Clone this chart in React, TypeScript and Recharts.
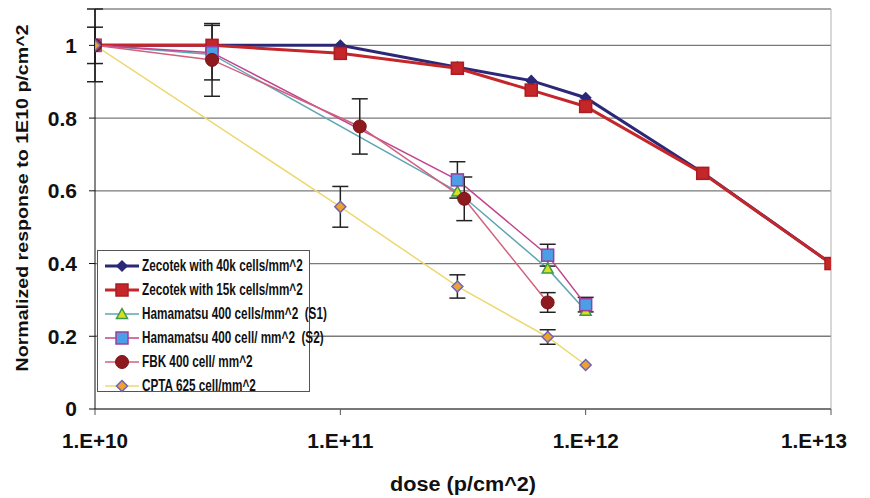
import { LineChart, Line, XAxis, YAxis, CartesianGrid, ErrorBar, Label, ReferenceLine } from "recharts"

// dose points (p/cm^2) and normalized responses
const zecDose = [1e10, 3e10, 1e11, 3e11, 6e11, 1e12, 3e12, 1e13]
const zec40Resp = [1, 1, 1, 0.94, 0.903, 0.856, 0.65, 0.4]
const zec15Resp = [1, 1, 0.978, 0.937, 0.877, 0.832, 0.648, 0.4]

const hamaDose = [1e10, 3e10, 3e11, 7e11, 1e12]
const hamaS1Resp = [1, 0.975, 0.598, 0.386, 0.27]
const hamaS2Resp = [1, 0.98, 0.63, 0.423, 0.287]
const hamaS2Err = [0.05, 0.075, 0.05, 0.03, 0.02]

const fbkDose = [1e10, 3e10, 1.2e11, 3.2e11, 7e11]
const fbkResp = [1, 0.96, 0.777, 0.578, 0.293]
const fbkErr = [0.1, 0.1, 0.076, 0.06, 0.027]

const cptaDose = [1e10, 1e11, 3e11, 7e11, 1e12]
const cptaResp = [1, 0.556, 0.337, 0.198, 0.121]
const cptaErr = [0, 0.056, 0.032, 0.02, 0]

const xTicks = [1e10, 1e11, 1e12, 1e13]
const yTicks = [0, 0.2, 0.4, 0.6, 0.8, 1]

const toRows = (xs: number[], ys: number[], errs?: number[]) =>
  xs.map((x, i) => ({ x, y: ys[i], err: errs ? errs[i] : 0 }))

const FONT = "'Liberation Sans', Arial, sans-serif"

/* marker shapes */
type Mk = { kind: string; fill: string; stroke: string; size: number }

function shape(m: Mk, cx: number, cy: number, key?: string | number) {
  const s = m.size
  if (m.kind === "diamond")
    return <path key={key} d={`M${cx},${cy - s}L${cx + s},${cy}L${cx},${cy + s}L${cx - s},${cy}Z`} fill={m.fill} stroke={m.stroke} strokeWidth={1.5} />
  if (m.kind === "square")
    return <rect key={key} x={cx - s} y={cy - s} width={2 * s} height={2 * s} fill={m.fill} stroke={m.stroke} strokeWidth={1.5} />
  if (m.kind === "triangle")
    return <path key={key} d={`M${cx},${cy - s}L${cx + s},${cy + s * 0.8}L${cx - s},${cy + s * 0.8}Z`} fill={m.fill} stroke={m.stroke} strokeWidth={1.5} />
  return <circle key={key} cx={cx} cy={cy} r={s} fill={m.fill} stroke={m.stroke} strokeWidth={1} />
}

const series = [
  { name: "Zecotek with 40k cells/mm^2", line: "#2c2878", width: 3, mk: { kind: "diamond", fill: "#2c2878", stroke: "#2c2878", size: 5 } },
  { name: "Zecotek with 15k cells/mm^2", line: "#c4262a", width: 3, mk: { kind: "square", fill: "#c4262a", stroke: "#a81e22", size: 6 } },
  { name: "Hamamatsu 400 cells/mm^2  (S1)", line: "#5fa6b4", width: 1.5, mk: { kind: "triangle", fill: "#d6df22", stroke: "#3d9a4a", size: 5.5 } },
  { name: "Hamamatsu 400 cell/ mm^2  (S2)", line: "#c0448e", width: 1.5, mk: { kind: "square", fill: "#4c9ee6", stroke: "#a03c9a", size: 6 } },
  { name: "FBK 400 cell/ mm^2", line: "#d2607e", width: 1.5, mk: { kind: "circle", fill: "#8c1a1e", stroke: "#7a1418", size: 6.5 } },
  { name: "CPTA 625 cell/mm^2", line: "#ecd870", width: 1.5, mk: { kind: "diamond", fill: "#eea032", stroke: "#6e64b4", size: 5.5 } },
]

const dotFor = (m: Mk) => (p: any) => shape(m, p.cx, p.cy, p.index)

function ChartLegend() {
  return (
    <div style={{ position: "absolute", left: 97, top: 250, width: 211, height: 140, border: "1px solid #555", background: "#fff", fontFamily: FONT, fontWeight: 700, fontSize: 17, color: "#111" }}>
      {series.map((s, i) => (
        <div key={s.name} style={{ position: "absolute", left: 6, top: 5 + i * 24, height: 20, display: "flex", alignItems: "center", whiteSpace: "pre" }}>
          <svg width={36} height={20}>
            <line x1={1} y1={10} x2={35} y2={10} stroke={s.line} strokeWidth={s.width} />
            {shape(s.mk, 18, 10)}
          </svg>
          <span style={{ display: "inline-block", marginLeft: 2, transform: "scaleX(0.69)", transformOrigin: "left center" }}>{s.name}</span>
        </div>
      ))}
    </div>
  )
}

const fmtX = (v: number) => `1.E+${Math.round(Math.log10(v))}`

function XTick(props: any) {
  const { x, y, payload } = props
  return (
    <text x={x} y={y + 31} textAnchor="middle" fill="#111" fontSize={20} fontWeight={700} fontFamily={FONT} textLength={66} lengthAdjust="spacingAndGlyphs">
      {fmtX(payload.value)}
    </text>
  )
}

export default function App() {
  const datasets = [
    toRows(zecDose, zec40Resp),
    toRows(zecDose, zec15Resp),
    toRows(hamaDose, hamaS1Resp),
    toRows(hamaDose, hamaS2Resp, hamaS2Err),
    toRows(fbkDose, fbkResp, fbkErr),
    toRows(cptaDose, cptaResp, cptaErr),
  ]
  const hasErr = [false, false, false, true, true, true]
  return (
    <div style={{ position: "absolute", left: 0, top: 0, width: 870, height: 498, background: "#fff" }}>
      <LineChart width={870} height={498} margin={{ top: 9, right: 39, bottom: 0, left: 0 }}>
        <CartesianGrid vertical={false} stroke="#7a7a7a" strokeWidth={1.3} />
        <ReferenceLine y={1.1} stroke="#b0b0b0" />
        <ReferenceLine x={1e13} stroke="#b0b0b0" />
        <XAxis
          dataKey="x"
          type="number"
          scale="log"
          domain={[1e10, 1e13]}
          ticks={xTicks}
          allowDataOverflow
          height={89}
          stroke="#555"
          tickSize={6}
          tick={<XTick />}
        >
          <Label
            content={() => (
              <text x={463} y={491} textAnchor="middle" fill="#111" fontSize={20} fontWeight={700} fontFamily={FONT} textLength={146} lengthAdjust="spacingAndGlyphs">
                dose (p/cm^2)
              </text>
            )}
          />
        </XAxis>
        <YAxis
          type="number"
          domain={[0, 1.1]}
          ticks={yTicks}
          allowDataOverflow
          width={95}
          stroke="#111"
          tickSize={6}
          tickMargin={12}
          tick={{ fill: "#111", fontSize: 21, fontWeight: 700, fontFamily: FONT }}
        >
          <Label
            content={() => (
              <text x={22} y={198} transform="rotate(-90 22 198)" textAnchor="middle" dominantBaseline="central" fill="#111" fontSize={16} fontWeight={700} fontFamily={FONT} textLength={347} lengthAdjust="spacingAndGlyphs">
                Normalized response to 1E10 p/cm^2
              </text>
            )}
          />
        </YAxis>
        {series.map((s, i) => (
          <Line
            key={s.name}
            data={datasets[i]}
            dataKey="y"
            name={s.name}
            stroke={s.line}
            strokeWidth={s.width}
            dot={dotFor(s.mk)}
            activeDot={false}
            isAnimationActive={false}
          >
            {hasErr[i] && <ErrorBar dataKey="err" direction="y" width={8} stroke="#222" strokeWidth={1.5} />}
          </Line>
        ))}
      </LineChart>
      <ChartLegend />
    </div>
  )
}
